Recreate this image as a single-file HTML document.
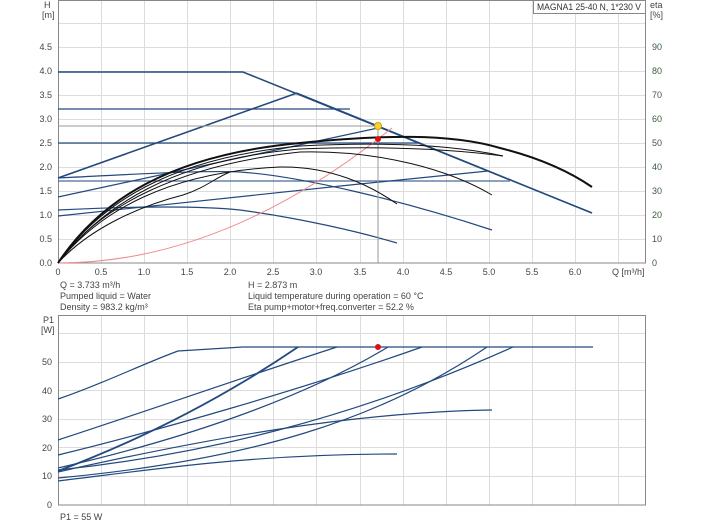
<!DOCTYPE html>
<html><head><meta charset="utf-8"><style>
html,body{margin:0;padding:0;background:#fff;}
svg{display:block;font-family:"Liberation Sans",sans-serif;}
</style></head><body>
<svg width="704" height="528" viewBox="0 0 704 528" xmlns="http://www.w3.org/2000/svg">
<g stroke="#dcdcdc" stroke-width="1" fill="none">
<path d="M101.5,0V263M144.5,0V263M187.5,0V263M230.5,0V263M273.5,0V263M316.5,0V263M360.5,0V263M403.5,0V263M446.5,0V263M489.5,0V263M532.5,0V263M575.5,0V263M618.5,0V263"/>
<path d="M58,23.5H645M58,47.5H645M58,71.5H645M58,95.5H645M58,119.5H645M58,143.5H645M58,167.5H645M58,191.5H645M58,215.5H645M58,239.5H645"/>
<path d="M101.5,315V505M144.5,315V505M187.5,315V505M230.5,315V505M273.5,315V505M316.5,315V505M360.5,315V505M403.5,315V505M446.5,315V505M489.5,315V505M532.5,315V505M575.5,315V505M618.5,315V505"/>
<path d="M58,333.5H645M58,362.5H645M58,390.5H645M58,419.5H645M58,447.5H645M58,476.5H645"/>
</g>
<g stroke="#888" fill="none">
<rect x="58.5" y="0.5" width="587" height="262.5"/>
<rect x="58.5" y="315.5" width="587" height="189.5"/>
</g>
<rect x="533.5" y="0.5" width="112" height="13" fill="#fff" stroke="#888"/>
<text x="537" y="10" font-size="9" fill="#333" textLength="104" lengthAdjust="spacingAndGlyphs">MAGNA1 25-40 N, 1*230 V</text>
<g font-size="9" fill="#444">
<text x="44" y="8">H</text><text x="42" y="18">[m]</text>
<text x="650" y="8">eta</text><text x="650" y="18">[%]</text>
<g text-anchor="end">
<text x="52" y="50">4.5</text><text x="52" y="74">4.0</text><text x="52" y="98">3.5</text><text x="52" y="122">3.0</text><text x="52" y="146">2.5</text><text x="52" y="170">2.0</text><text x="52" y="194">1.5</text><text x="52" y="218">1.0</text><text x="52" y="242">0.5</text><text x="52" y="266">0.0</text>
</g>
<g fill="#3a5a3a">
<text x="652" y="50">90</text><text x="652" y="74">80</text><text x="652" y="98">70</text><text x="652" y="122">60</text><text x="652" y="146">50</text><text x="652" y="170">40</text><text x="652" y="194">30</text><text x="652" y="218">20</text><text x="652" y="242">10</text><text x="652" y="266">0</text>
</g>
<g text-anchor="middle">
<text x="58" y="275">0</text><text x="101" y="275">0.5</text><text x="144" y="275">1.0</text><text x="187" y="275">1.5</text><text x="230" y="275">2.0</text><text x="273" y="275">2.5</text><text x="316" y="275">3.0</text><text x="360" y="275">3.5</text><text x="403" y="275">4.0</text><text x="446" y="275">4.5</text><text x="489" y="275">5.0</text><text x="532" y="275">5.5</text><text x="575" y="275">6.0</text>
</g>
<text x="612" y="275">Q [m³/h]</text>
<text x="60" y="288">Q = 3.733 m³/h</text>
<text x="60" y="299">Pumped liquid = Water</text>
<text x="60" y="310">Density = 983.2 kg/m³</text>
<text x="248" y="288">H = 2.873 m</text>
<text x="248" y="299">Liquid temperature during operation = 60 °C</text>
<text x="248" y="310">Eta pump+motor+freq.converter = 52.2 %</text>
<text x="43" y="323">P1</text><text x="41" y="333">[W]</text>
<g text-anchor="end">
<text x="52" y="365">50</text><text x="52" y="394">40</text><text x="52" y="422">30</text><text x="52" y="451">20</text><text x="52" y="479">10</text><text x="52" y="508">0</text>
</g>
<text x="60" y="520">P1 = 55 W</text>
</g>
<g stroke="#23497e" fill="none" stroke-width="1.2">
<path d="M58,72H243L592,213" stroke-width="1.6"/>
<path d="M58,178L297,93" stroke-width="1.6"/>
<path d="M297,93L592,213"/>
<path d="M58,109H350"/>
<path d="M58,143H420"/>
<path d="M58,181H510" stroke="#4a6a99"/>
<path d="M58,197L378,128"/>
<path d="M58,216L350,185L488,171"/>
<path d="M58,178C120,175 200,170 240,172C300,176 400,200 492,230"/>
<path d="M58,210C120,207 190,205 240,210C300,218 360,232 397,243"/>
</g>
<path d="M58,126H378V263" stroke="#999" fill="none"/>
<path d="M58,263Q218,263 378,139L392,128" stroke="#e88" fill="none"/>
<g stroke="#111" fill="none">
<path d="M58,263C100,200 170,155 300,143C380,135 450,133 500,148C540,158 570,172 592,187" stroke-width="2"/>
<path d="M58,263C100,203 170,158 300,146C380,142 450,144 503,156"/>
<path d="M58,263C102,206 172,160 300,149C380,146 450,149 503,156"/>
<path d="M58,263C100,205 180,165 300,152C380,150 450,170 492,195"/>
<path d="M58,263C100,210 170,172 280,167C330,166 370,185 397,204"/>
<path d="M58,263C90,228 140,206 183,195C205,188 215,178 230,172"/>
</g>
<circle cx="378" cy="126" r="3.5" fill="#f4d23a" stroke="#c9a400"/>
<circle cx="378" cy="139" r="3" fill="#e01010"/>
<g stroke="#23497e" fill="none" stroke-width="1.2">
<path d="M593,347H243L178,351C140,365 100,385 58,399"/>
<path d="M58,440C150,410 250,375 337,347"/>
<path d="M58,471C140,440 220,400 298,347" stroke-width="1.8"/>
<path d="M58,455C160,430 300,390 422,347"/>
<path d="M58,468C180,440 300,400 388,347"/>
<path d="M58,470C200,455 350,420 513,347"/>
<path d="M58,478C250,460 380,420 487,347"/>
<path d="M58,472C200,440 350,412 492,410"/>
<path d="M58,481C150,470 250,454 397,454"/>
</g>
<circle cx="378" cy="347" r="3" fill="#e01010"/>
</svg>
</body></html>
